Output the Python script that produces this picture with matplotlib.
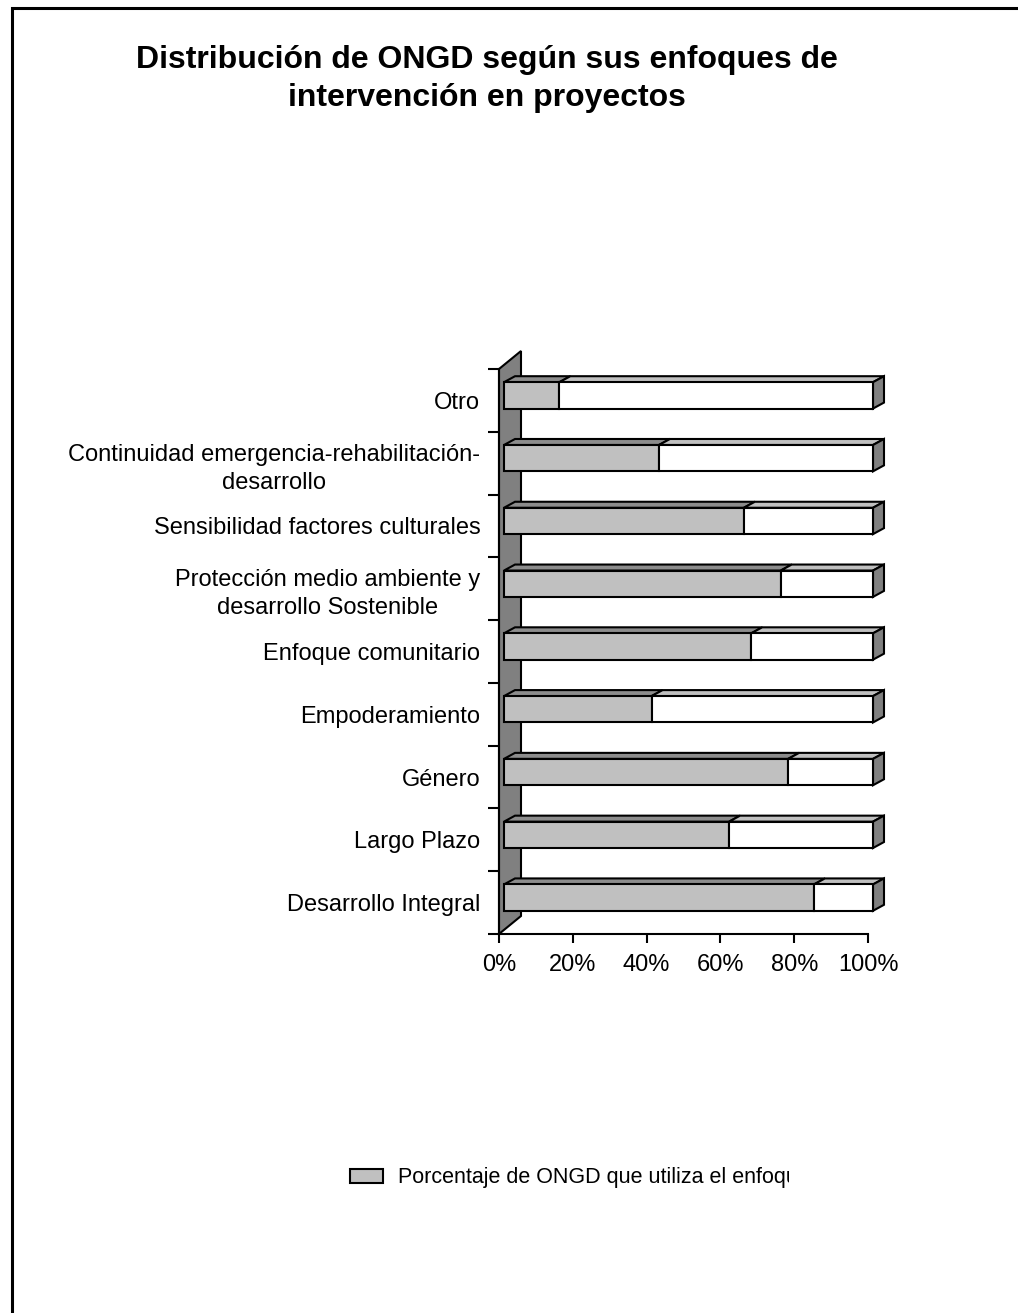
import matplotlib
matplotlib.use("Agg")
import matplotlib.pyplot as plt
import numpy as np
from matplotlib.patches import Polygon, Patch
from matplotlib.lines import Line2D
from matplotlib.transforms import Affine2D, Bbox, IdentityTransform

plt.rcParams['font.family'] = ['Liberation Sans', 'DejaVu Sans']

# ---- data (top to bottom as shown on the chart) ----
categories = [
    "Otro",
    "Continuidad emergencia-rehabilitación-\ndesarrollo",
    "Sensibilidad factores culturales",
    "Protección medio ambiente y\ndesarrollo Sostenible",
    "Enfoque comunitario",
    "Empoderamiento",
    "Género",
    "Largo Plazo",
    "Desarrollo Integral",
]
pct_uses = [15, 42, 65, 75, 67, 40, 77, 61, 84]
x_ticks = [0, 20, 40, 60, 80, 100]
x_tick_labels = ["0%", "20%", "40%", "60%", "80%", "100%"]
series_label = "Porcentaje de ONGD que utiliza el enfoque"
title = "Distribución de ONGD según sus enfoques de\nintervención en proyectos"

# ---- styling ----
GRAY_FRONT = "#C0C0C0"
GRAY_TOP = "#8C8C8C"
WHITE_TOP = "#C0C0C0"
SIDE = "#808080"
WALL_COLOR = "#808080"
EDGE_LW = 1.5

W, H = 1018, 1313
fig = plt.figure(figsize=(W / 100, H / 100), dpi=100)
ax = fig.add_axes([499 / W, (H - 934) / H, 369 / W, 565 / H])

cats = categories[::-1]
vals = np.array(pct_uses[::-1], dtype=float)
rest = 100 - vals
ypos = np.arange(len(cats))
n = len(cats)

ax.set_xlim(0, 100)
ax.set_ylim(-0.5, n - 0.5)

# pixel offsets used for the oblique 3-D look
FRONT = (5, 5)
BACK = (16, 11)
WALL = (22, 18)
bar_h = 0.42


def disp(x, y, off):
    px, py = ax.transData.transform((x, y))
    return (px + off[0], py + off[1])


def add_poly(pts, fc, z):
    ax.add_patch(Polygon(pts, closed=True, facecolor=fc, edgecolor="black",
                         linewidth=EDGE_LW, transform=IdentityTransform(),
                         clip_on=False, zorder=z, joinstyle="miter"))


# back wall
y0, y1 = -0.5, n - 0.5
add_poly([disp(0, y0, (0, 0)), disp(0, y1, (0, 0)),
          disp(0, y1, WALL), disp(0, y0, WALL)], WALL_COLOR, 1)

# top and side faces of each bar
for y, v in zip(ypos, vals):
    top = y + bar_h / 2
    bot = y - bar_h / 2
    add_poly([disp(0, top, FRONT), disp(v, top, FRONT),
              disp(v, top, BACK), disp(0, top, BACK)], GRAY_TOP, 2)
    add_poly([disp(v, top, FRONT), disp(100, top, FRONT),
              disp(100, top, BACK), disp(v, top, BACK)], WHITE_TOP, 2)
    add_poly([disp(100, bot, FRONT), disp(100, top, FRONT),
              disp(100, top, BACK), disp(100, bot, BACK)], SIDE, 2)

# front faces
front = ax.transData + Affine2D().translate(*FRONT)
ax.barh(ypos, vals, height=bar_h, left=0, color=GRAY_FRONT, edgecolor="black",
        linewidth=EDGE_LW, transform=front, clip_on=False, zorder=3,
        label=series_label)
ax.barh(ypos, rest, height=bar_h, left=vals, color="white", edgecolor="black",
        linewidth=EDGE_LW, transform=front, clip_on=False, zorder=3)

ax.set_xlim(0, 100)
ax.set_ylim(-0.5, n - 0.5)

# axes decoration
for s in ("top", "right"):
    ax.spines[s].set_visible(False)
for s in ("left", "bottom"):
    ax.spines[s].set_linewidth(1.5)
ax.patch.set_visible(False)

ax.set_xticks(x_ticks)
ax.set_xticklabels(x_tick_labels, fontsize=17)
ax.tick_params(axis="x", direction="out", length=6.5, width=1.5, pad=8)

ax.set_yticks(ypos)
ax.set_yticklabels(cats, fontsize=17, multialignment="center", linespacing=1.35)
ax.set_yticks(np.arange(-0.5, n, 1.0), minor=True)
ax.tick_params(axis="y", which="major", length=0, pad=13.5)
ax.tick_params(axis="y", which="minor", direction="out", length=8, width=1.5)

# legend (label runs past the visible area and is cut off)
handle = Patch(facecolor=GRAY_FRONT, edgecolor="black", linewidth=1.5)
leg = fig.legend([handle], [series_label], loc="center left",
                 bbox_to_anchor=(350 / W, 1 - 1178 / H), frameon=False,
                 fontsize=15.5, handlelength=1.55, handleheight=0.6,
                 handletextpad=0.7, borderpad=0, borderaxespad=0)
for t in leg.get_texts():
    t.set_clip_box(Bbox.from_extents(0, 0, 789, H))
    t.set_clip_on(True)

# title
fig.text(487 / W, 1 - 79 / H, title, ha="center", va="center",
         fontsize=23, fontweight="bold", linespacing=1.35)

# outer frame
fig.add_artist(Line2D([12 / W, 12 / W, 1.0], [0.0, 1 - 8 / H, 1 - 8 / H],
                      transform=fig.transFigure, color="black", linewidth=2.2,
                      solid_joinstyle="miter"))

fig.savefig("out.png", dpi=100)
